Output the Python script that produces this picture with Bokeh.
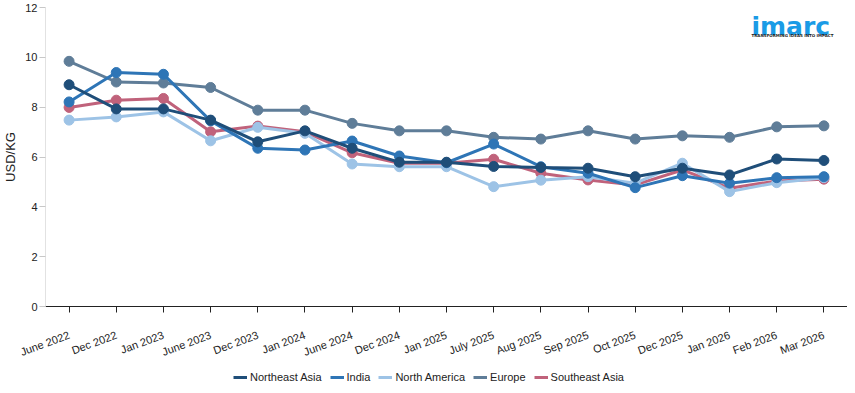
from bokeh.plotting import figure
from bokeh.models import FactorRange, Range1d, Legend, LegendItem, Label, FixedTicker
from bokeh.layouts import column
from bokeh.embed import file_html
from bokeh.resources import INLINE

months = ["June 2022", "Dec 2022", "Jan 2023", "June 2023", "Dec 2023", "Jan 2024",
          "June 2024", "Dec 2024", "Jan 2025", "July 2025", "Aug 2025", "Sep 2025",
          "Oct 2025", "Dec 2025", "Jan 2026", "Feb 2026", "Mar 2026"]

northeast_asia = [8.9, 7.93, 7.93, 7.48, 6.61, 7.05, 6.35, 5.79, 5.79, 5.62, 5.58, 5.55,
                  5.21, 5.55, 5.28, 5.92, 5.86]
india = [8.21, 9.39, 9.32, 7.45, 6.35, 6.28, 6.64, 6.04, 5.77, 6.52, 5.61, 5.35,
         4.77, 5.25, 4.95, 5.17, 5.21]
north_america = [7.48, 7.61, 7.81, 6.65, 7.19, 6.95, 5.72, 5.61, 5.61, 4.81, 5.07, 5.21,
                 4.95, 5.75, 4.61, 4.97, 5.17]
europe = [9.84, 9.01, 8.97, 8.79, 7.88, 7.88, 7.35, 7.05, 7.05, 6.79, 6.72, 7.05,
          6.72, 6.85, 6.79, 7.21, 7.25]
southeast_asia = [7.99, 8.28, 8.35, 7.01, 7.24, 7.01, 6.17, 5.75, 5.75, 5.91, 5.35, 5.08,
                  4.88, 5.48, 4.75, 5.04, 5.11]

series_names = ["Northeast Asia", "India", "North America", "Europe", "Southeast Asia"]
series_values = [northeast_asia, india, north_america, europe, southeast_asia]
colors = ["#1f4e79", "#2e75b6", "#9dc3e6", "#5f7d98", "#c0627b"]
y_ticks = [0, 2, 4, 6, 8, 10, 12]

W = 847
p = figure(x_range=FactorRange(factors=months), y_range=Range1d(0, 12),
           width=W, height=369, output_backend="svg", toolbar_location=None,
           min_border_left=38, min_border_right=0, min_border_top=7, min_border_bottom=63)
p.outline_line_color = None
p.xgrid.grid_line_color = None
p.ygrid.grid_line_color = None

draw_order = [3, 4, 2, 1, 0]
for i in draw_order:
    p.line(months, series_values[i], line_color=colors[i], line_width=3)
    p.scatter(months, series_values[i], size=10, color=colors[i])

# x axis
p.xaxis.axis_line_color = "#222222"
p.xaxis.major_tick_line_color = "#222222"
p.xaxis.major_tick_out = 6
p.xaxis.major_tick_in = 0
p.xaxis.minor_tick_line_color = None
p.xaxis.major_label_orientation = 0.35
p.xaxis.major_label_standoff = 22
p.xaxis.major_label_text_font = "Liberation Sans"
p.xaxis.major_label_text_font_size = "11px"
p.xaxis.major_label_text_color = "#222222"

# y axis
p.yaxis.ticker = FixedTicker(ticks=y_ticks)
p.yaxis.axis_line_color = "#e2e2e2"
p.yaxis.major_tick_line_color = "#c8c8c8"
p.yaxis.major_tick_out = 6
p.yaxis.major_tick_in = 0
p.yaxis.minor_tick_line_color = None
p.yaxis.major_label_standoff = 2
p.yaxis.major_label_text_font = "Liberation Sans"
p.yaxis.major_label_text_font_size = "11px"
p.yaxis.major_label_text_color = "#222222"
p.yaxis.axis_label = "USD/KG"
p.yaxis.axis_label_standoff = 4
p.yaxis.axis_label_text_font = "Liberation Sans"
p.yaxis.axis_label_text_font_size = "13px"
p.yaxis.axis_label_text_font_style = "normal"
p.yaxis.axis_label_text_color = "#222222"

# logo
p.add_layout(Label(x=706, y=280, x_units="screen", y_units="screen", text="imarc",
                   text_font="DejaVu Sans", text_font_style="bold", text_font_size="25px",
                   text_color="#1a9be6", text_baseline="alphabetic"))
p.add_layout(Label(x=706, y=271, x_units="screen", y_units="screen",
                   text="TRANSFORMING IDEAS INTO IMPACT",
                   text_font="DejaVu Sans", text_font_style="bold", text_font_size="4px",
                   text_color="#222222", text_baseline="alphabetic"))

# legend strip
lg = figure(width=W, height=16, output_backend="svg", toolbar_location=None,
            x_range=Range1d(0, 1), y_range=Range1d(0, 1),
            min_border_left=0, min_border_right=0, min_border_top=0, min_border_bottom=0)
lg.axis.visible = False
lg.grid.visible = False
lg.outline_line_color = None
items = []
for i in range(5):
    r = lg.line(x=[5, 6], y=[5, 6], line_color=colors[i], line_width=3)
    items.append(LegendItem(label=series_names[i], renderers=[r]))
legend = Legend(items=items, orientation="horizontal", location=(188, 1),
                glyph_width=14, glyph_height=14, label_height=14, label_standoff=3, spacing=8,
                padding=0, margin=0, border_line_color=None, background_fill_alpha=0,
                label_text_font="Liberation Sans", label_text_font_size="11px",
                label_text_color="#222222")
lg.add_layout(legend, "center")

layout = column(p, lg, spacing=0)
open("out.html", "w").write(file_html(layout, INLINE))
